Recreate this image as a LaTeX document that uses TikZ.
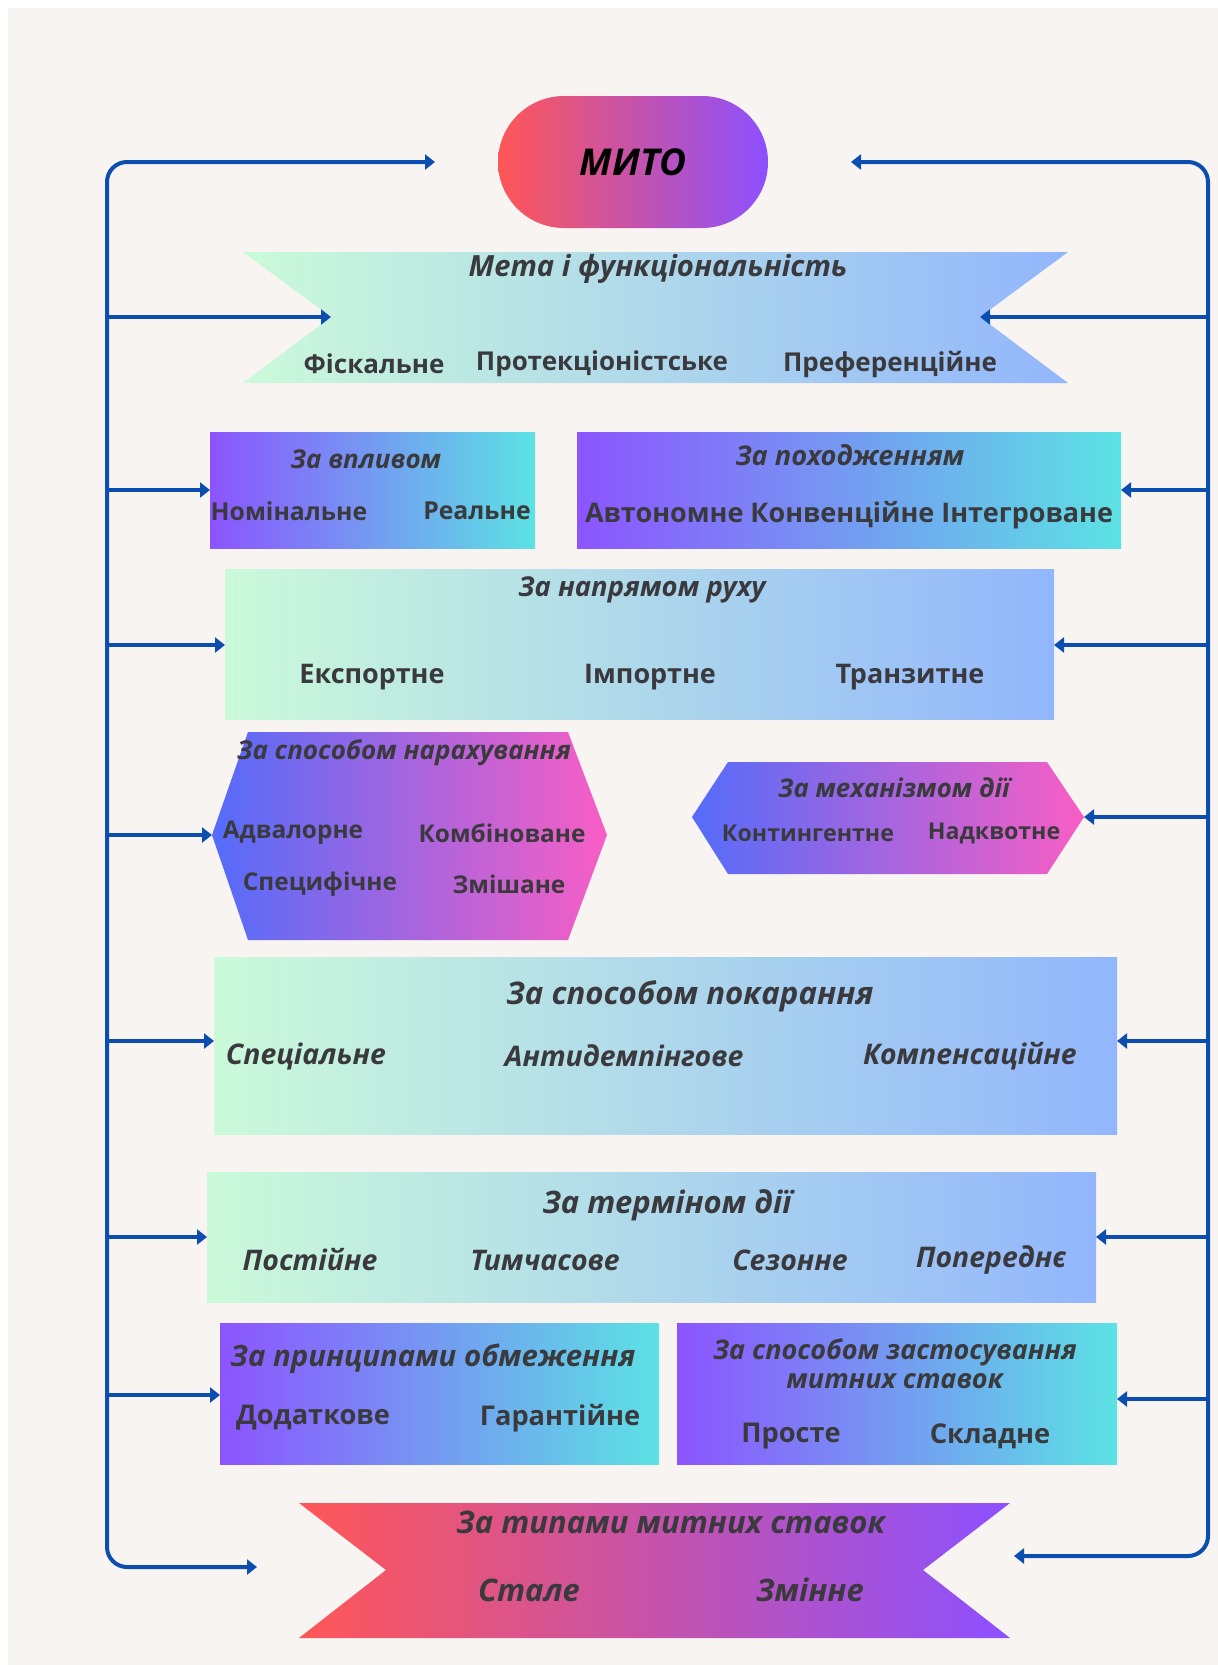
\documentclass[tikz,border=0pt]{standalone}
\usepackage{fontspec}
\setmainfont{Open Sans}
\usetikzlibrary{arrows.meta}
\definecolor{bgc}{RGB}{248,244,242}
\definecolor{lnc}{RGB}{12,78,176}
\definecolor{txt}{RGB}{58,58,62}
\definecolor{mintL}{RGB}{203,250,218}
\definecolor{blueR}{RGB}{146,182,252}
\definecolor{purpL}{RGB}{140,84,255}
\definecolor{cyanR}{RGB}{92,226,228}
\definecolor{bluL}{RGB}{84,108,250}
\definecolor{pinkR}{RGB}{248,94,196}
\definecolor{redL}{RGB}{255,86,86}
\definecolor{violR}{RGB}{140,80,255}
\begin{document}
\begin{tikzpicture}[x=0.5pt,y=-0.5pt,
  conn/.style={draw=lnc, line width=2pt, -{Triangle[length=5pt,width=7.5pt]}},
  bus/.style={draw=lnc, line width=2pt, rounded corners=10pt, {Triangle[length=5pt,width=7.5pt]}-{Triangle[length=5pt,width=7.5pt]}},
  ttl/.style={text=txt, inner sep=0pt, font=\bfseries\itshape\fontsize{#1pt}{#1pt}\selectfont},
  itm/.style={text=txt, inner sep=0pt, font=\bfseries\fontsize{#1pt}{#1pt}\selectfont},
  itmi/.style={text=txt, inner sep=0pt, font=\bfseries\itshape\fontsize{#1pt}{#1pt}\selectfont},
  gradMB/.style={left color=mintL, right color=blueR},
  gradPC/.style={left color=purpL, right color=cyanR},
  gradBP/.style={left color=bluL, right color=pinkR},
  gradRV/.style={left color=redL, right color=violR}]
\useasboundingbox (0,0) rectangle (1218,1665);
\fill[white] (0,0) rectangle (1218,1665);
\fill[bgc] (8,8) rectangle (1218,1665);

% bus coordinates
\coordinate (busL) at (107,0);
\coordinate (busR) at (1208,0);

% MITO
\node[draw=none, rounded corners=33pt, minimum width=135pt, minimum height=66pt, gradRV,
      font=\bfseries\itshape\fontsize{18.5pt}{18.5pt}\selectfont, text=black] (mito) at (633,162) {МИТО};
\coordinate (mitoAL) at (435,162);
\coordinate (mitoAR) at (851,162);

% Meta ribbon
\shade[gradMB] (243,252) -- (1068,252) -- (980,317) -- (1068,383) -- (243,383) -- (331,317) -- cycle;
\coordinate (metaL) at (331,317);
\coordinate (metaR) at (980,317);
\node[ttl=14.6] (metaT) at (658,269) {Мета і функціональність};
\node[itm=13] (m1) at (374,364) {Фіскальне};
\node[itm=13] (m2) at (602,364) {Протекціоністське};
\node[itm=13] (m3) at (890,364) {Преференційне};

% Vplyvom
\shade[gradPC] (210,432) rectangle (535,548);
\coordinate (vplL) at (210,490);
\node[ttl=13] (vplT) at (366,459) {За впливом};
\node[itm=12.4] (v1) at (289,511) {Номінальне};
\node[itm=12.4] (v2) at (477,511) {Реальне};

% Pohodzhenniam
\shade[gradPC] (577,432) rectangle (1121,548);
\coordinate (pohR) at (1121,490);
\node[ttl=13.6] (pohT) at (850,455) {За походженням};
\node[itm=13.5] (p1) at (849,515) {Автономне Конвенційне Інтегроване};

% Napriamom
\shade[gradMB] (225,569) rectangle (1054,719);
\coordinate (napL) at (225,645);
\coordinate (napR) at (1054,645);
\node[ttl=13.7] (napT) at (642,590) {За напрямом руху};
\node[itm=13.5] (n1) at (372,677) {Експортне};
\node[itm=13.5] (n2) at (650,677) {Імпортне};
\node[itm=13.5] (n3) at (910,677) {Транзитне};

% Narakhuvannia hexagon
\shade[gradBP] (248,732) -- (568,732) -- (607,835) -- (568,940) -- (248,940) -- (212,835) -- cycle;
\coordinate (narL) at (212,835);
\node[ttl=13] (narT) at (404,753) {За способом нарахування};
\node[itm=12.2] (h1) at (293,833) {Адвалорне};
\node[itm=12.2] (h2) at (502,833) {Комбіноване};
\node[itm=12.2] (h3) at (320,884) {Специфічне};
\node[itm=12.2] (h4) at (509,884) {Змішане};

% Mekhanizmom hexagon
\shade[gradBP] (728,762) -- (1047,762) -- (1084,817) -- (1047,874) -- (728,874) -- (692,817) -- cycle;
\coordinate (mehR) at (1084,817);
\node[ttl=12.9] (mehT) at (894,788) {За механізмом дії};
\node[itm=11.6] (k1) at (808,833) {Контингентне};
\node[itm=11.6] (k2) at (994,833) {Надквотне};

% Pokarannia
\shade[gradMB] (214,957) rectangle (1117,1134);
\coordinate (pokL) at (214,1041);
\coordinate (pokR) at (1117,1041);
\node[ttl=15.6] (pokT) at (690,996) {За способом покарання};
\node[itmi=14.2] (s1) at (306,1056) {Спеціальне};
\node[itmi=14.2] (s2) at (624,1056) {Антидемпінгове};
\node[itmi=14.2] (s3) at (970,1056) {Компенсаційне};

% Terminom
\shade[gradMB] (207,1172) rectangle (1096,1302);
\coordinate (terL) at (207,1237);
\coordinate (terR) at (1096,1237);
\node[ttl=15.5] (terT) at (667,1205) {За терміном дії};
\node[itmi=14.2] (t1) at (310,1260) {Постійне};
\node[itmi=14.2] (t2) at (545,1260) {Тимчасове};
\node[itmi=14.2] (t3) at (790,1260) {Сезонне};
\node[itmi=14.2] (t4) at (991,1260) {Попереднє};

% Obmezhennia
\shade[gradPC] (220,1323) rectangle (659,1464);
\coordinate (obmL) at (220,1395);
\node[ttl=14.7] (obmT) at (433,1359) {За принципами обмеження};
\node[itm=13.6] (o1) at (313,1418) {Додаткове};
\node[itm=13.6] (o2) at (560,1418) {Гарантійне};

% Zastosuvannia
\shade[gradPC] (677,1323) rectangle (1117,1464);
\coordinate (zasR) at (1117,1399);
\node[text=txt, inner sep=0pt, align=center, font=\bfseries\itshape\fontsize{13.5pt}{14.3pt}\selectfont] (zasT) at (895,1364) {За способом застосування\\митних ставок};
\node[itm=13.6] (z1) at (791,1436) {Просте};
\node[itm=13.6] (z2) at (990,1436) {Складне};

% Typamy ribbon
\shade[gradRV] (299,1503) -- (1010,1503) -- (923,1570) -- (1010,1638) -- (299,1638) -- (386,1570) -- cycle;
\coordinate (tipAL) at (257,1567);
\coordinate (tipAR) at (1014,1556);
\node[ttl=15.5] (tipT) at (671,1522) {За типами митних ставок};
\node[itmi=15.5] (y1) at (529,1590) {Стале};
\node[itmi=15.5] (y2) at (810,1590) {Змінне};

% buses
\draw[bus] (mitoAL) -- (mitoAL -| busL) -- (tipAL -| busL) -- (tipAL);
\draw[bus] (mitoAR) -- (mitoAR -| busR) -- (tipAR -| busR) -- (tipAR);

% left branches
\foreach \c in {metaL,vplL,napL,narL,pokL,terL,obmL}
  \draw[conn] (\c -| busL) -- (\c);
% right branches
\foreach \c in {metaR,pohR,napR,mehR,pokR,terR,zasR}
  \draw[conn] (\c -| busR) -- (\c);
\end{tikzpicture}
\end{document}
